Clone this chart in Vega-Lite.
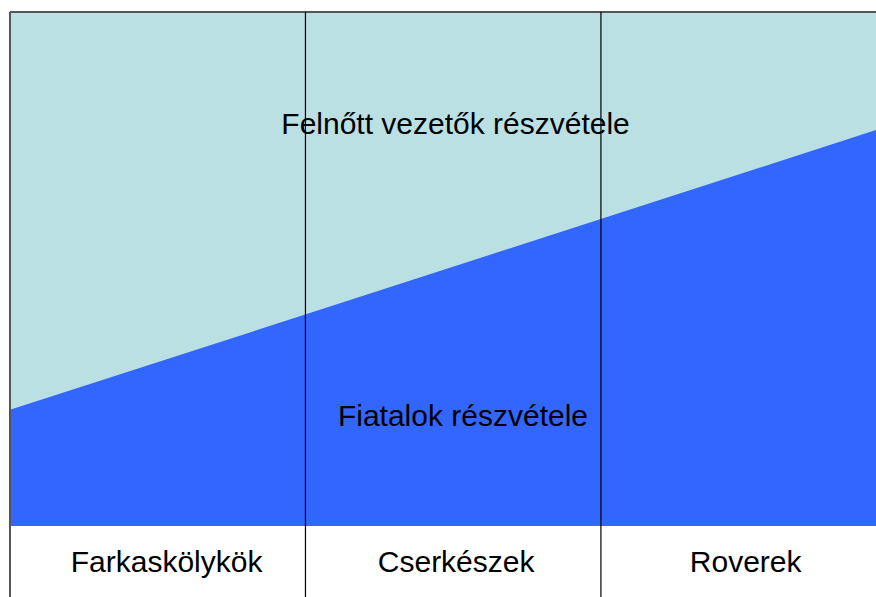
{
  "$schema": "https://vega.github.io/schema/vega-lite/v6.json",
  "autosize": {"type": "fit", "contains": "padding"},
  "width": 876,
  "height": 597,
  "padding": 0,
  "background": "white",
  "config": {"view": {"stroke": null}},
  "datasets": {
    "bg": [{"x0": 0, "x1": 3, "y0": 0, "y1": 100}],
    "line": [{"x": 0, "y": 22.6}, {"x": 3, "y": 78.3}],
    "dividers": [{"x": 0, "c": "left"}, {"x": 1, "c": "mid"}, {"x": 2, "c": "mid"}],
    "cats": [
      {"x": 0.53, "label": "Farkaskölykök"},
      {"x": 1.51, "label": "Cserkészek"},
      {"x": 2.49, "label": "Roverek"}
    ],
    "notes": [
      {"x": 1.508, "y": 78.0, "label": "Felnőtt vezetők részvétele"},
      {"x": 1.533, "y": 21.2, "label": "Fiatalok részvétele"}
    ]
  },
  "layer": [
    {
      "data": {"name": "bg"},
      "mark": {"type": "rect", "color": "#BAE0E3", "clip": true},
      "encoding": {
        "x": {"field": "x0", "type": "quantitative", "scale": {"domain": [-0.0338, 2.931], "nice": false, "zero": false}, "axis": null},
        "x2": {"field": "x1"},
        "y": {"field": "y0", "type": "quantitative", "scale": {"domain": [-13.81, 102.33], "nice": false, "zero": false}, "axis": null},
        "y2": {"field": "y1"}
      }
    },
    {
      "data": {"name": "line"},
      "mark": {"type": "area", "color": "#3366FF", "clip": true, "opacity": 1},
      "encoding": {
        "x": {"field": "x", "type": "quantitative"},
        "y": {"field": "y", "type": "quantitative"},
        "y2": {"datum": 0}
      }
    },
    {
      "data": {"name": "bg"},
      "mark": {"type": "rule", "color": "#555555", "strokeWidth": 2, "clip": true},
      "encoding": {
        "x": {"field": "x0", "type": "quantitative"},
        "x2": {"field": "x1"},
        "y": {"field": "y1", "type": "quantitative"}
      }
    },
    {
      "data": {"name": "dividers"},
      "mark": {"type": "rule", "clip": true},
      "encoding": {
        "x": {"field": "x", "type": "quantitative"},
        "y": {"datum": -13.81},
        "y2": {"datum": 100},
        "color": {"field": "c", "type": "nominal", "scale": {"domain": ["left", "mid"], "range": ["#555555", "#000000"]}, "legend": null},
        "strokeWidth": {"field": "c", "type": "nominal", "scale": {"domain": ["left", "mid"], "range": [2, 1.2]}, "legend": null}
      }
    },
    {
      "data": {"name": "cats"},
      "mark": {"type": "text", "font": "Liberation Sans", "fontSize": 30, "color": "#000000", "align": "center", "baseline": "middle"},
      "encoding": {
        "x": {"field": "x", "type": "quantitative"},
        "y": {"datum": -7.2},
        "text": {"field": "label"}
      }
    },
    {
      "data": {"name": "notes"},
      "mark": {"type": "text", "font": "Liberation Sans", "fontSize": 30, "color": "#000000", "align": "center", "baseline": "middle"},
      "encoding": {
        "x": {"field": "x", "type": "quantitative"},
        "y": {"field": "y", "type": "quantitative"},
        "text": {"field": "label"}
      }
    }
  ]
}
